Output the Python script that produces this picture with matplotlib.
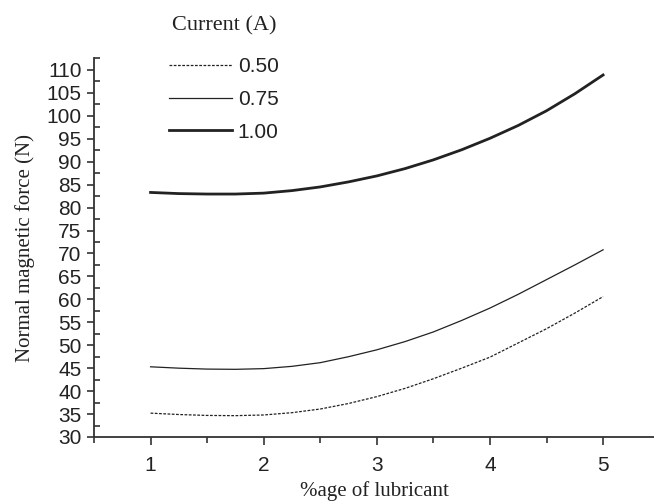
import matplotlib
matplotlib.use("Agg")
import matplotlib.pyplot as plt
from matplotlib.ticker import MultipleLocator

# lubricant percentage and normal magnetic force for each current
lubricant = [1.0, 1.25, 1.5, 1.75, 2.0, 2.25, 2.5, 2.75, 3.0,
             3.25, 3.5, 3.75, 4.0, 4.25, 4.5, 4.75, 5.0]
force_050 = [35.2, 34.9, 34.7, 34.65, 34.8, 35.3, 36.1, 37.3, 38.8,
             40.6, 42.7, 45.0, 47.4, 50.5, 53.6, 57.0, 60.6]
force_075 = [45.3, 45.0, 44.8, 44.75, 44.9, 45.4, 46.2, 47.5, 49.0,
             50.8, 52.9, 55.4, 58.1, 61.1, 64.3, 67.5, 70.8]
force_100 = [83.3, 83.05, 82.95, 82.95, 83.15, 83.7, 84.5, 85.6, 86.9,
             88.5, 90.4, 92.6, 95.1, 97.9, 101.1, 104.8, 108.9]
current_labels = ["0.50", "0.75", "1.00"]

serif = "Liberation Serif"
sans = "Liberation Sans"
ink = "#222222"

fig = plt.figure(figsize=(6.54, 5.01), dpi=100)
ax = fig.add_axes([94 / 654, 64 / 501, 560 / 654, 379 / 501])

ax.plot(lubricant, force_050, color=ink, lw=0.9, ls=(0, (2.2, 1.2)), label=current_labels[0])
ax.plot(lubricant, force_075, color=ink, lw=0.9, label=current_labels[1])
ax.plot(lubricant, force_100, color=ink, lw=2.0, label=current_labels[2])

ax.set_xlim(0.5, 5.45)
ax.set_ylim(30, 112.6)
ax.xaxis.set_major_locator(MultipleLocator(1))
ax.xaxis.set_minor_locator(MultipleLocator(0.5))
ax.yaxis.set_major_locator(MultipleLocator(5))
ax.yaxis.set_minor_locator(MultipleLocator(2.5))

for side in ("top", "right"):
    ax.spines[side].set_visible(False)
for side in ("left", "bottom"):
    ax.spines[side].set_linewidth(1.3)
    ax.spines[side].set_color("#333333")

ax.tick_params(axis="x", which="major", direction="out", length=6, width=1.2,
               pad=8, labelsize=15, colors="#333333", labelcolor=ink)
ax.tick_params(axis="x", which="minor", direction="out", length=4.5, width=1.2,
               colors="#333333")
ax.tick_params(axis="y", which="major", direction="out", length=5, width=1.2,
               pad=4, labelsize=15, colors="#333333", labelcolor=ink)
ax.tick_params(axis="y", which="minor", direction="in", length=4, width=1.2,
               colors="#333333")
for lbl in ax.get_xticklabels() + ax.get_yticklabels():
    lbl.set_fontfamily(sans)

ax.set_xlabel("%age of lubricant", fontfamily=serif, fontsize=15, color=ink, labelpad=4)
ax.set_ylabel("Normal magnetic force (N)", fontfamily=serif, fontsize=15, color=ink, labelpad=8)

leg = ax.legend(loc="upper left", bbox_to_anchor=(169 / 654, 1 - 16 / 501),
                bbox_transform=fig.transFigure, frameon=False,
                title="Current (A)", prop={"family": sans, "size": 15},
                title_fontproperties={"family": serif, "size": 16},
                handlelength=3.0, handletextpad=0.3, labelspacing=0.65,
                borderpad=0, borderaxespad=0)
for txt in leg.get_texts():
    txt.set_color(ink)
leg.get_title().set_color(ink)
leg._legend_box.sep = 16

fig.savefig("out.png", dpi=100)
